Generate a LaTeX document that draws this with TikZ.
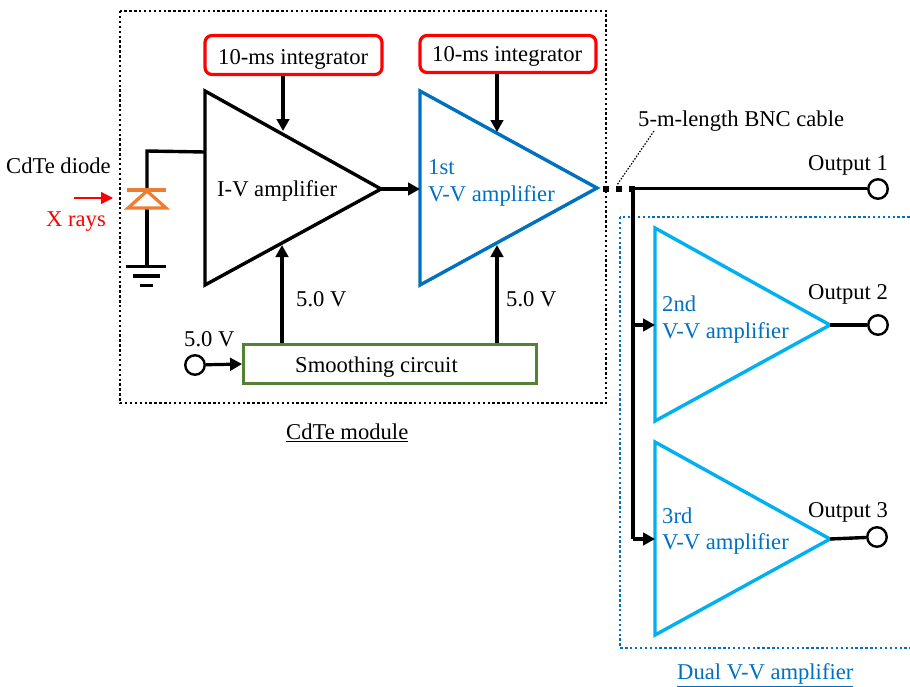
\documentclass[tikz,border=0pt]{standalone}
\usepackage{fontspec}
\setmainfont{Liberation Serif}
\usetikzlibrary{arrows.meta}
\definecolor{cblue}{RGB}{0,112,192}
\definecolor{sky}{RGB}{0,176,240}
\definecolor{cgreen}{RGB}{84,130,53}
\definecolor{corange}{RGB}{237,125,49}
\tikzset{
  x=1pt,y=-1pt,
  wire/.style={line width=3.4pt,black},
  arr/.style={line width=3.2pt,black,-{Triangle[length=12pt,width=12.5pt]}},
  amp/.style={line width=3.4pt,line join=miter},
  lab/.style={inner sep=0pt,font=\fontsize{22.6}{26.5}\selectfont,align=left},
  intg/.style={draw=red,line width=3.2pt,rounded corners=7pt,fill=white,inner sep=0pt},
  term/.style={circle,draw=black,line width=2.4pt,minimum size=19.5pt,inner sep=0pt,fill=white},
  frame/.style={line width=2.2pt,dash pattern=on 2.4pt off 2.5pt}
}
\begin{document}
\begin{tikzpicture}
\useasboundingbox (0,0) rectangle (910,686);
% frames
\draw[frame,black] (120,11) rectangle (606,403);
\draw[frame,cblue] (620,217) rectangle (912,648);
% triangles
\coordinate (a1) at (205,91); \coordinate (a2) at (205,285); \coordinate (a3) at (381,189);
\coordinate (b1) at (420,91); \coordinate (b2) at (420,285); \coordinate (b3) at (597,188);
\coordinate (c1) at (655,228); \coordinate (c2) at (655,421); \coordinate (c3) at (830,325);
\coordinate (d1) at (655,442); \coordinate (d2) at (655,635); \coordinate (d3) at (830,539);
\draw[amp,black] (a1)--(a2)--(a3)--cycle;
\draw[amp,cblue] (b1)--(b2)--(b3)--cycle;
\draw[amp,sky] (c1)--(c2)--(c3)--cycle;
\draw[amp,sky] (d1)--(d2)--(d3)--cycle;
% integrators
\node[intg,minimum width=177pt,minimum height=39pt] (i1) at (293.5,55) {};
\node[intg,minimum width=176pt,minimum height=37pt] (i2) at (508,54) {};
\node[lab,anchor=west] (i1t) at (218,59) {10-ms integrator};
\node[lab,anchor=west] (i2t) at (432,56) {10-ms integrator};
% smoothing
\node[draw=cgreen,line width=2.8pt,minimum width=293pt,minimum height=39pt,inner sep=0pt] (sm) at (390,364) {};
\node[lab,anchor=west] (smt) at (295,367) {Smoothing circuit};
% terminals
\node[term] (o1) at (878,189) {};
\node[term] (o2) at (878,325) {};
\node[term] (o3) at (877,537) {};
\node[term] (v5) at (195,365) {};
% labels
\node[lab,anchor=west] (tia) at (217,191) {I-V amplifier};
\node[lab,anchor=west,text=cblue] (t1) at (428,183) {1st\\V-V amplifier};
\node[lab,anchor=west,text=cblue] (t2) at (662,319.5) {2nd\\V-V amplifier};
\node[lab,anchor=west,text=cblue] (t3) at (662,531) {3rd\\V-V amplifier};
\node[lab,anchor=west] (cd) at (6,166) {CdTe diode};
\node[lab,anchor=west,text=red] (xr) at (46,222) {X rays};
\node[lab,anchor=west] (bnc) at (638,121) {5-m-length BNC cable};
\node[lab,anchor=west] (l1) at (808,165) {Output 1};
\node[lab,anchor=west] (l2) at (808,294) {Output 2};
\node[lab,anchor=west] (l3) at (808,512) {Output 3};
\node[lab,anchor=west] (v1) at (296,299) {5.0 V};
\node[lab,anchor=west] (v2) at (506,299) {5.0 V};
\node[lab,anchor=west] (v3) at (184,339) {5.0 V};
\node[lab,anchor=west] (m1) at (286,433) {\underline{CdTe module}};
\node[lab,anchor=west,text=cblue] (m2) at (677,675) {\underline{Dual V-V amplifier}};
% arrows into amplifiers
\coordinate (ai) at (283,131); \coordinate (bi) at (497,132);
\draw[arr] (i1.south -| ai) -- (ai);
\draw[arr] (i2.south -| bi) -- (bi);
\coordinate (ap) at (282,245); \coordinate (bp) at (497,245);
\draw[arr] (sm.north -| ap) -- (ap);
\draw[arr] (sm.north -| bp) -- (bp);
\draw[arr] (v5) -- (sm.west);
\draw[arr] (a3) -- (420,189);
% diode
\coordinate (dtop) at (147,189); \coordinate (dbot) at (147,209);
\coordinate (wt) at (205,152);
\draw[wire] (wt) -- (147,151) -- (dtop);
\draw[wire] (dbot) -- (147,266) coordinate (gnd);
\draw[corange,line width=3.8pt] (127,190) -- (166,190);
\draw[corange,line width=3.2pt,line join=miter] (147,191) -- (128,208) -- (166,208) -- cycle;
\draw[line width=3.2pt] (126,266.5) -- (166,266.5);
\draw[line width=3.2pt] (133,276) -- (160,276);
\draw[line width=3.2pt] (140,285.5) -- (153,285.5);
\coordinate (xs) at (74,198); \coordinate (xe) at (113,198);
\draw[red,line width=1.2pt,-{Triangle[length=12pt,width=12pt]}] (xs) -- (xe);
% cable
\fill (603,186) rectangle (609,192);
\fill (616,186) rectangle (622,192);
\fill (629,186) rectangle (635,192);
\coordinate (j) at (633,188.7);
\draw[wire] (j) -- (o1.west |- j);
\draw[wire] (j) -- (633,539);
\coordinate (j2) at (633,325); \coordinate (j3) at (633,539);
\draw[arr] (j2) -- (655,325);
\draw[arr] (j3) -- (655,539);
\draw[wire] (c3) -- (o2);
\draw[wire] (d3) -- (o3);
\coordinate (bs) at (654,131); \coordinate (be) at (617,185);
\draw[line width=1.2pt,dash pattern=on 1.5pt off 1.5pt] (bs) -- (be);
\end{tikzpicture}
\end{document}
